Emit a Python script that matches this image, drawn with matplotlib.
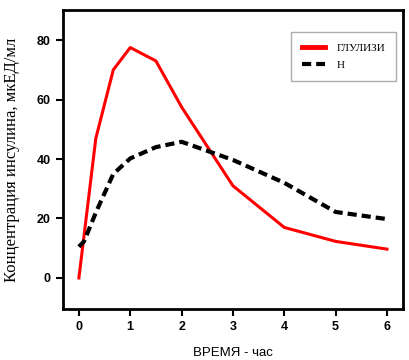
import matplotlib
matplotlib.use("Agg")
import matplotlib.pyplot as plt

# time (h) and insulin concentration (mcU/ml)
t_red = [0, 0.33, 0.67, 1.0, 1.5, 2.0, 3.0, 4.0, 5.0, 6.0]
glulisine = [0, 47, 70, 77.5, 73, 57.5, 31, 17, 12.3, 9.7]
t_blk = [0, 0.1, 0.33, 0.67, 1.0, 1.5, 2.0, 3.0, 4.0, 5.0, 6.0]
other = [10.5, 12.3, 22, 35, 40.2, 44, 45.8, 39.7, 32, 22.2, 19.8]
xticks = [0, 1, 2, 3, 4, 5, 6]
yticks = [0, 20, 40, 60, 80]

fig = plt.figure(figsize=(4.09, 3.6), dpi=100)
ax = fig.add_axes([0.154, 0.142, 0.831, 0.830])
ax.plot(t_red, glulisine, color="#ff0000", lw=2.2, label="ГЛУЛИЗИ")
ax.plot(t_blk, other, color="black", lw=3, ls=(0, (2.2, 1.2)), label="Н")

ax.set_xlim(-0.31, 6.31); ax.set_ylim(-10.4, 90.1)
ax.set_xticks(xticks); ax.set_yticks(yticks)
for s in ax.spines.values():
    s.set_linewidth(2)
ax.tick_params(direction="out", length=5, width=1.5, pad=4)
for lab in ax.get_xticklabels() + ax.get_yticklabels():
    lab.set_fontfamily("Liberation Sans"); lab.set_fontweight("bold"); lab.set_fontsize(9)

ax.set_xlabel("ВРЕМЯ - час", fontfamily="Liberation Sans", fontsize=9.5, labelpad=10)
ax.set_ylabel("Концентрация инсулина, мкЕД/мл", fontfamily="Liberation Serif", fontsize=12, labelpad=12)

leg = ax.legend(loc="upper left", bbox_to_anchor=(0.67, 0.925), fancybox=False, frameon=True,
                prop={"family": "Liberation Serif", "size": 8}, handlelength=2.1,
                labelspacing=0.6, borderpad=1.0, handletextpad=1.0, borderaxespad=0)
leg.get_frame().set_edgecolor("#999999"); leg.get_frame().set_linewidth(1)
leg.get_lines()[0].set_linewidth(3.5)

fig.savefig("out.png", dpi=100)
